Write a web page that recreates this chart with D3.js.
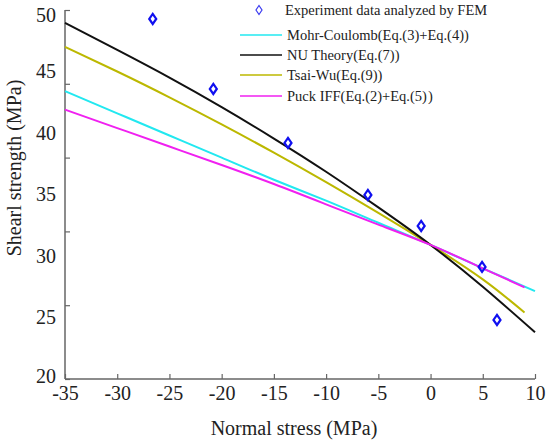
<!DOCTYPE html>
<html><head><meta charset="utf-8">
<script src="https://cdn.jsdelivr.net/npm/d3@7"></script>
<style>
html,body{margin:0;padding:0;background:#fff;}
svg{display:block;font-family:"Liberation Serif","DejaVu Serif",serif;}
</style></head>
<body><svg id="c" width="548" height="443"></svg>
<script>
// Data
const xTickValues = [-35,-30,-25,-20,-15,-10,-5,0,5,10];
const yLabelValues = [20,25,30,35,40,45,50];
const yTickMarks = [20,26,32,38,44,50];

const expX = [-26.6,-20.8,-13.65,-6.0,-0.9,4.93,6.36];
const expY = [49.27,43.58,39.19,34.96,32.44,29.11,24.8];

const mcX = [-35,-30,-25,-20,-15,-10,-5,0,5,10];
const mcY = [43.4,41.6,39.8,38.0,36.2,34.5,32.7,30.9,29.0,27.15];

const nuX = [-35,-30,-25,-20,-15,-10,-5,0,5,10];
const nuY = [48.95,46.75,44.5,42.1,39.55,36.85,33.95,30.9,27.5,23.8];

const twX = [-35,-30,-25,-20,-15,-10,-5,0,5,9];
const twY = [47.0,45.0,42.9,40.7,38.4,36.0,33.5,30.9,28.1,25.4];

const puX = [-35,-30,-25,-20,-15,-10,-5,0,5,9];
const puY = [41.9,40.4,38.9,37.4,35.85,34.2,32.55,30.9,29.0,27.45];

const seriesNames = ["Mohr-Coulomb(Eq.(3)+Eq.(4))","NU Theory(Eq.(7))","Tsai-Wu(Eq.(9))","Puck IFF(Eq.(2)+Eq.(5)\u200A)"];
const seriesColors = ["#22e8f0","#111111","#bcb800","#f020f0"];
const expName = "Experiment data analyzed by FEM";

const svg = d3.select("#c");
const x = d3.scaleLinear().domain([-35,10]).range([65,535]);
const y = d3.scaleLinear().domain([20,50]).range([379,10]);
const axisColor = "#666";

// axes lines
svg.append("line").attr("x1",x(-35)).attr("x2",x(10)).attr("y1",y(20)).attr("y2",y(20))
  .attr("stroke",axisColor).attr("stroke-width",1.5);
svg.append("line").attr("x1",x(-35)).attr("x2",x(-35)).attr("y1",y(20)).attr("y2",y(50))
  .attr("stroke",axisColor).attr("stroke-width",1.5);

// x ticks
const xa = svg.append("g").attr("transform",`translate(0,${y(20)})`)
  .call(d3.axisBottom(x).tickValues(xTickValues).tickSize(-5).tickPadding(10).tickFormat(d3.format("d")));
xa.select(".domain").remove();
xa.selectAll(".tick line").attr("stroke",axisColor).attr("stroke-width",1.2);
xa.selectAll("text").attr("font-size",20).attr("fill","#222").attr("font-family","Liberation Serif").attr("dy","0.9em").attr("y",3)
  .text(d=>d<0?"-"+Math.abs(d):d);

// y tick marks
const ym = svg.append("g").attr("transform",`translate(${x(-35)},0)`)
  .call(d3.axisLeft(y).tickValues(yTickMarks).tickSize(-5).tickFormat(""));
ym.select(".domain").remove();
ym.selectAll(".tick line").attr("stroke",axisColor).attr("stroke-width",1.2);

// y labels
const yl = svg.append("g").attr("transform",`translate(${x(-35)},0)`)
  .call(d3.axisLeft(y).tickValues(yLabelValues).tickSize(0).tickPadding(9).tickFormat(d3.format("d")));
yl.select(".domain").remove();
yl.selectAll("text").attr("font-size",20).attr("fill","#222").attr("font-family","Liberation Serif");
yl.selectAll(".tick").filter(d=>d===50).select("text").attr("dy","0.55em");
yl.selectAll(".tick").filter(d=>d===20).select("text").attr("dy","0.15em");

// axis titles
svg.append("text").attr("x",294).attr("y",435).attr("text-anchor","middle")
  .attr("font-size",20).attr("fill","#222").text("Normal stress (MPa)");
svg.append("text").attr("transform","translate(21,168) rotate(-90)").attr("text-anchor","middle")
  .attr("font-size",20).attr("fill","#222").text("Shearl strength (MPa)");

// curves
const line = d3.line().x(d=>x(d[0])).y(d=>y(d[1])).curve(d3.curveNatural);
const seriesData = [
  d3.zip(mcX,mcY), d3.zip(nuX,nuY), d3.zip(twX,twY), d3.zip(puX,puY)
];
const drawOrder = [0,2,1,3];
drawOrder.forEach(i=>{
  svg.append("path").datum(seriesData[i]).attr("d",line).attr("fill","none")
    .attr("stroke",seriesColors[i]).attr("stroke-width",2);
});

// diamonds
const diamond = (cx,cy,w,h)=>`M${cx},${cy-h/2}L${cx+w/2},${cy}L${cx},${cy+h/2}L${cx-w/2},${cy}Z`;
svg.append("g").selectAll("path").data(d3.zip(expX,expY)).join("path")
  .attr("d",d=>diamond(x(d[0]),y(d[1]),7,10))
  .attr("fill","none").attr("stroke","#1010f0").attr("stroke-width",2.2);

// legend
const lg = svg.append("g");
lg.append("path").attr("d",diamond(259,10,6,9)).attr("fill","none").attr("stroke","#3a3af0").attr("stroke-width",1.2);
lg.append("text").attr("x",285).attr("y",15).attr("font-size",14.5).attr("fill","#222").text(expName);
const legendY = [35,55,75,96];
seriesNames.forEach((n,i)=>{
  lg.append("line").attr("x1",240).attr("x2",282).attr("y1",legendY[i]).attr("y2",legendY[i])
    .attr("stroke",seriesColors[i]).attr("stroke-width",1.5);
  lg.append("text").attr("x",287).attr("y",legendY[i]+5).attr("font-size",14.5).attr("fill","#222").text(n);
});
</script></body></html>
